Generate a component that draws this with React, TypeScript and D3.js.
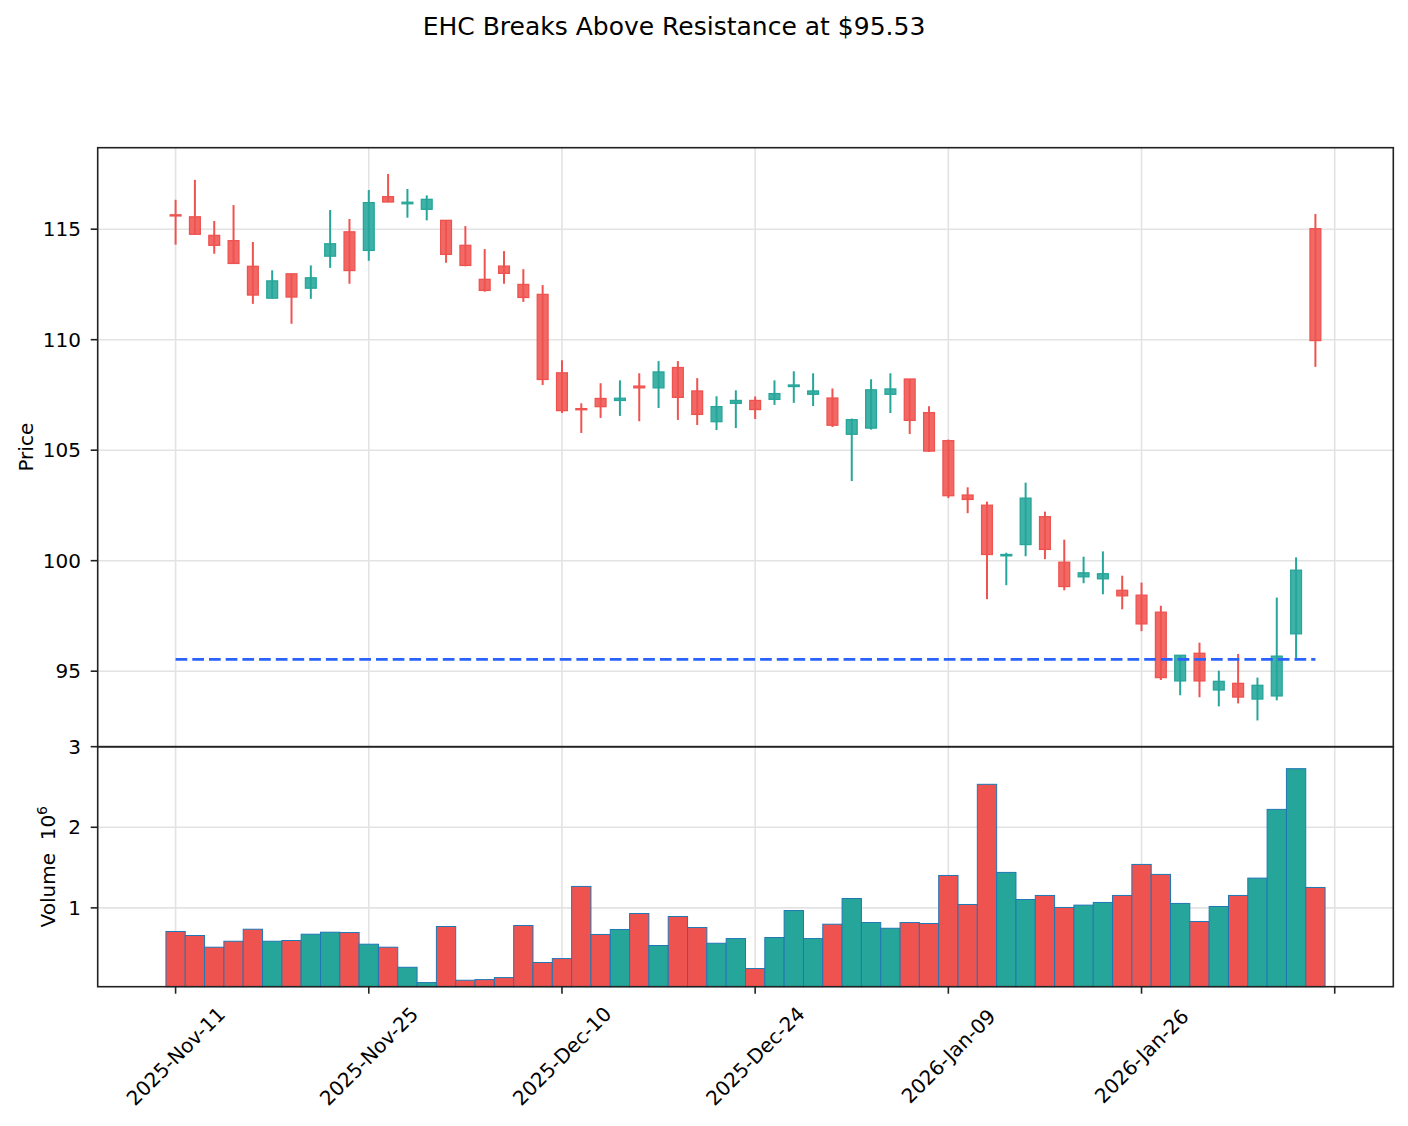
import * as d3 from "d3"
import { useEffect, useRef } from "react"

// trading days, one candle each
const dates = [
  "2025-11-11", "2025-11-12", "2025-11-13", "2025-11-14", "2025-11-17", "2025-11-18", "2025-11-19", "2025-11-20", "2025-11-21", "2025-11-24",
  "2025-11-25", "2025-11-26", "2025-11-28", "2025-12-01", "2025-12-02", "2025-12-03", "2025-12-04", "2025-12-05", "2025-12-08", "2025-12-09",
  "2025-12-10", "2025-12-11", "2025-12-12", "2025-12-15", "2025-12-16", "2025-12-17", "2025-12-18", "2025-12-19", "2025-12-22", "2025-12-23",
  "2025-12-24", "2025-12-26", "2025-12-29", "2025-12-30", "2025-12-31", "2026-01-02", "2026-01-05", "2026-01-06", "2026-01-07", "2026-01-08",
  "2026-01-09", "2026-01-12", "2026-01-13", "2026-01-14", "2026-01-15", "2026-01-16", "2026-01-20", "2026-01-21", "2026-01-22", "2026-01-23",
  "2026-01-26", "2026-01-27", "2026-01-28", "2026-01-29", "2026-01-30", "2026-02-02", "2026-02-03", "2026-02-04", "2026-02-05", "2026-02-06"
]

const opens = [
  115.65, 115.56, 114.72, 114.48, 113.32, 111.88, 112.98, 112.33, 113.78, 114.88,
  114.04, 116.47, 116.15, 115.90, 115.40, 114.27, 112.73, 113.33, 112.50, 112.05,
  108.50, 106.88, 107.34, 107.25, 107.90, 107.82, 108.74, 107.68, 106.29, 107.12,
  107.25, 107.30, 107.88, 107.53, 107.36, 105.72, 106.00, 107.53, 108.22, 106.70,
  105.43, 102.97, 102.51, 100.22, 100.73, 101.99, 99.93, 99.27, 99.18, 98.66,
  98.44, 97.67, 94.56, 95.81, 94.15, 94.45, 93.74, 93.88, 96.69, 115.02
]
const highs = [
  116.33, 117.23, 115.37, 116.09, 114.42, 113.14, 112.98, 113.36, 115.87, 115.46,
  116.77, 117.50, 116.82, 116.53, 115.40, 115.14, 114.10, 114.01, 113.19, 112.47,
  109.07, 107.12, 108.03, 108.16, 108.48, 109.03, 109.03, 108.26, 107.44, 107.71,
  107.43, 108.16, 108.57, 108.48, 107.79, 106.43, 108.21, 108.48, 108.22, 106.99,
  105.48, 103.32, 102.67, 100.36, 103.53, 102.22, 100.95, 100.18, 100.42, 99.32,
  99.01, 97.96, 95.72, 96.29, 95.02, 95.78, 94.71, 98.33, 100.15, 115.69
]
const lows = [
  114.30, 114.75, 113.89, 113.43, 111.62, 111.86, 110.72, 111.85, 113.25, 112.53,
  113.57, 116.23, 115.52, 115.40, 113.48, 113.32, 112.17, 112.53, 111.71, 107.95,
  106.68, 105.78, 106.46, 106.55, 106.31, 106.91, 106.37, 106.14, 105.91, 106.00,
  106.41, 107.05, 107.14, 107.00, 106.05, 103.60, 105.93, 106.68, 105.73, 104.92,
  102.83, 102.15, 98.26, 98.89, 100.20, 100.07, 98.66, 98.98, 98.48, 97.80,
  96.81, 94.60, 93.91, 93.82, 93.41, 93.54, 92.77, 93.68, 95.55, 108.77
]
const closes = [
  115.60, 114.77, 114.27, 113.45, 112.02, 112.66, 111.93, 112.80, 114.34, 113.13,
  116.20, 116.23, 116.22, 116.35, 113.86, 113.36, 112.23, 113.00, 111.91, 108.20,
  106.79, 106.83, 106.97, 107.35, 107.82, 108.54, 107.39, 106.62, 106.97, 107.25,
  106.84, 107.56, 107.95, 107.68, 106.13, 106.38, 107.73, 107.77, 106.35, 104.96,
  102.94, 102.77, 100.28, 100.28, 102.83, 100.51, 98.83, 99.45, 99.41, 98.41,
  97.14, 94.71, 95.72, 94.56, 94.54, 93.83, 94.36, 95.68, 99.57, 109.96
]
// volume in millions
const volumes = [
  0.707, 0.657, 0.512, 0.586, 0.735, 0.586, 0.595, 0.673, 0.698, 0.694,
  0.549, 0.512, 0.263, 0.073, 0.769, 0.102, 0.110, 0.135, 0.781, 0.322,
  0.371, 1.266, 0.670, 0.731, 0.930, 0.533, 0.893, 0.756, 0.561, 0.619,
  0.247, 0.632, 0.967, 0.619, 0.797, 1.116, 0.818, 0.747, 0.818, 0.806,
  1.402, 1.042, 2.533, 1.440, 1.104, 1.154, 1.005, 1.034, 1.067, 1.154,
  1.539, 1.415, 1.055, 0.831, 1.017, 1.154, 1.369, 2.222, 2.727, 1.253
]

const resistance = 95.53
const priceTicks = [95, 100, 105, 110, 115]
const volumeTicks = [1, 2, 3]
const xTickIndex = [0, 10, 20, 30, 40, 50, 60]

const UP = "#26a69a"
const DOWN = "#ef5350"
const FONT = "DejaVu Sans"

const App = () => {
  const svgRef = useRef<SVGSVGElement | null>(null)

  useEffect(() => {
    if (!svgRef.current) return
    const svg = d3.select(svgRef.current)
    svg.selectAll("*").remove()

    const left = 97.7, right = 1393.3, top = 147.7, split = 746.7, bottom = 986.7
    const n = dates.length
    const pad = n * 0.0672

    const x = d3.scaleLinear().domain([-pad, n - 1 + pad]).range([left, right])
    const step = x(1) - x(0)

    const lo = d3.min(lows) ?? 0
    const hi = d3.max(highs) ?? 0
    const yp = d3
      .scaleLinear()
      .domain([lo - 0.048 * (hi - lo), hi + 0.048 * (hi - lo)])
      .range([split, top])

    const yv = d3
      .scaleLinear()
      .domain([0.3 * (d3.min(volumes) ?? 0), 1.1 * (d3.max(volumes) ?? 0)])
      .range([bottom, split])

    const parse = d3.timeParse("%Y-%m-%d")
    const fmt = d3.timeFormat("%Y-%b-%d")

    const candles = dates.map((d, i) => ({
      i,
      o: opens[i],
      h: highs[i],
      l: lows[i],
      c: closes[i],
      v: volumes[i],
      up: closes[i] >= opens[i]
    }))

    // Title
    svg
      .append("text")
      .attr("x", 674)
      .attr("y", 35)
      .attr("text-anchor", "middle")
      .style("font-family", FONT)
      .style("font-size", "25px")
      .text(`EHC Breaks Above Resistance at $${resistance.toFixed(2)}`)

    // Grid lines
    const grid = svg.append("g").attr("stroke", "#e3e3e3").attr("stroke-width", 1.6)
    xTickIndex.forEach(t => {
      grid.append("line").attr("x1", x(t)).attr("x2", x(t)).attr("y1", top).attr("y2", bottom)
    })
    priceTicks.forEach(t => {
      grid.append("line").attr("x1", left).attr("x2", right).attr("y1", yp(t)).attr("y2", yp(t))
    })
    volumeTicks.forEach(t => {
      grid.append("line").attr("x1", left).attr("x2", right).attr("y1", yv(t)).attr("y2", yv(t))
    })

    // Candles: wicks then bodies
    const bw = step * 0.56
    const cg = svg.append("g")
    cg.selectAll(".wick")
      .data(candles)
      .enter()
      .append("line")
      .attr("x1", d => x(d.i))
      .attr("x2", d => x(d.i))
      .attr("y1", d => yp(d.h))
      .attr("y2", d => yp(d.l))
      .attr("stroke", d => (d.up ? UP : DOWN))
      .attr("stroke-width", 2)

    cg.selectAll(".body")
      .data(candles)
      .enter()
      .append("rect")
      .attr("x", d => x(d.i) - bw / 2)
      .attr("width", bw)
      .attr("y", d => yp(Math.max(d.o, d.c)))
      .attr("height", d => Math.max(0.6, Math.abs(yp(d.o) - yp(d.c))))
      .attr("fill", d => (d.up ? UP : DOWN))
      .attr("fill-opacity", 0.88)
      .attr("stroke", d => (d.up ? UP : DOWN))
      .attr("stroke-width", 1.3)

    // Resistance line
    svg
      .append("line")
      .attr("x1", x(0))
      .attr("x2", x(n - 1))
      .attr("y1", yp(resistance))
      .attr("y2", yp(resistance))
      .attr("stroke", "#2962ff")
      .attr("stroke-width", 2.7)
      .attr("stroke-dasharray", "11.7 5")

    // Volume bars
    svg
      .append("g")
      .selectAll("rect")
      .data(candles)
      .enter()
      .append("rect")
      .attr("x", d => x(d.i) - step / 2)
      .attr("width", step)
      .attr("y", d => yv(d.v))
      .attr("height", d => bottom - yv(d.v))
      .attr("fill", d => (d.up ? UP : DOWN))
      .attr("stroke", "#1f77b4")
      .attr("stroke-width", 1)

    // Spines
    const spine = svg.append("g").attr("fill", "none").attr("stroke", "#222").attr("stroke-width", 1.6)
    spine.append("rect").attr("x", left).attr("y", top).attr("width", right - left).attr("height", split - top)
    spine.append("rect").attr("x", left).attr("y", split).attr("width", right - left).attr("height", bottom - split)

    // Ticks and labels
    const ticks = svg.append("g").attr("stroke", "#222").attr("stroke-width", 1.6)
    const labels = svg.append("g").style("font-family", FONT).style("font-size", "20px").attr("fill", "#000")

    priceTicks.forEach(t => {
      ticks.append("line").attr("x1", left - 7).attr("x2", left).attr("y1", yp(t)).attr("y2", yp(t))
      labels
        .append("text")
        .attr("x", 81)
        .attr("y", yp(t))
        .attr("dy", "0.36em")
        .attr("text-anchor", "end")
        .text(t)
    })
    volumeTicks.forEach(t => {
      ticks.append("line").attr("x1", left - 7).attr("x2", left).attr("y1", yv(t)).attr("y2", yv(t))
      labels
        .append("text")
        .attr("x", 81)
        .attr("y", yv(t))
        .attr("dy", "0.36em")
        .attr("text-anchor", "end")
        .text(t)
    })
    xTickIndex.forEach(t => {
      ticks.append("line").attr("x1", x(t)).attr("x2", x(t)).attr("y1", bottom).attr("y2", bottom + 7)
      const date = dates[t] ? parse(dates[t]) : null
      if (!date) return
      labels
        .append("text")
        .attr("text-anchor", "middle")
        .attr("dy", "0.36em")
        .attr("transform", `translate(${x(t)},1056) rotate(-45)`)
        .text(fmt(date))
    })

    // Axis labels
    labels
      .append("text")
      .attr("text-anchor", "middle")
      .attr("transform", `translate(33,${(top + split) / 2}) rotate(-90)`)
      .text("Price")

    const vl = labels
      .append("text")
      .attr("text-anchor", "middle")
      .style("white-space", "pre")
      .attr("transform", `translate(55,${(split + bottom) / 2}) rotate(-90)`)
    vl.append("tspan").text("Volume  10")
    vl.append("tspan").attr("dy", -8).style("font-size", "14px").text("6")
  }, [])

  return (
    <svg
      ref={svgRef}
      width={1408}
      height={1126}
      style={{ position: "absolute", left: 0, top: 0, background: "#fff" }}
    />
  )
}

export default App
